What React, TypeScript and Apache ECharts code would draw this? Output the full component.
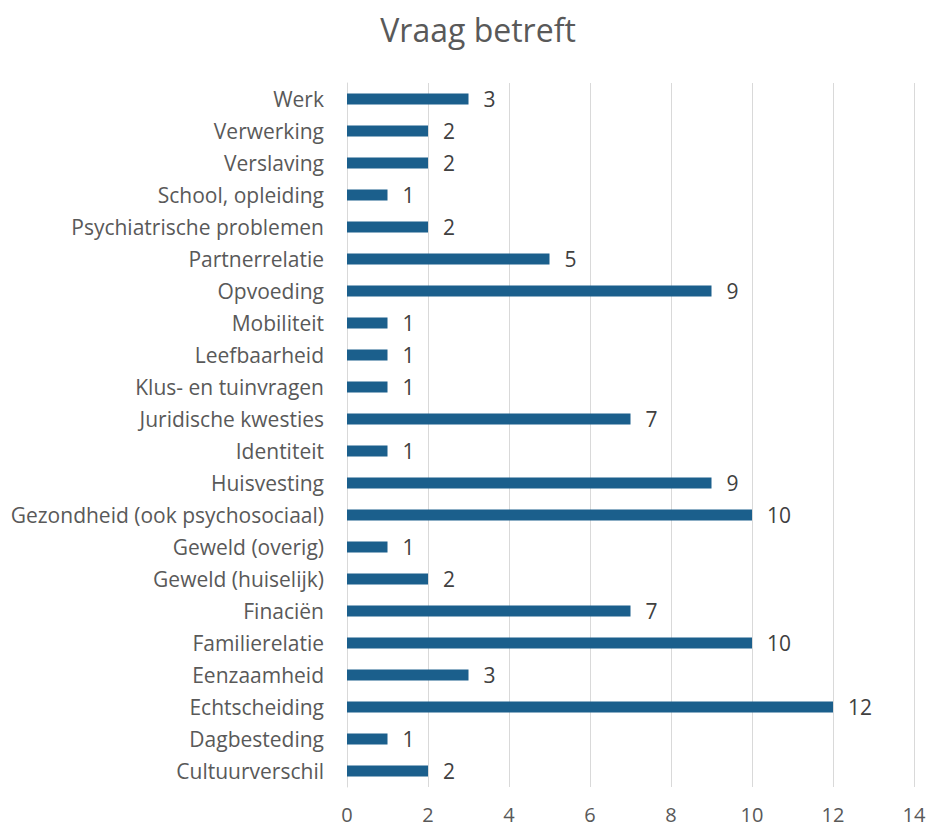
import React, { useEffect, useRef } from "react";
import * as echarts from "echarts";

const categories = [
  "Cultuurverschil",
  "Dagbesteding",
  "Echtscheiding",
  "Eenzaamheid",
  "Familierelatie",
  "Finaciën",
  "Geweld (huiselijk)",
  "Geweld (overig)",
  "Gezondheid (ook psychosociaal)",
  "Huisvesting",
  "Identiteit",
  "Juridische kwesties",
  "Klus- en tuinvragen",
  "Leefbaarheid",
  "Mobiliteit",
  "Opvoeding",
  "Partnerrelatie",
  "Psychiatrische problemen",
  "School, opleiding",
  "Verslaving",
  "Verwerking",
  "Werk",
];
const values = [2, 1, 12, 3, 10, 7, 2, 1, 10, 9, 1, 7, 1, 1, 1, 9, 5, 2, 1, 2, 2, 3];

const FONT = "'Open Sans', 'Liberation Sans', sans-serif";

export default function App() {
  const ref = useRef<HTMLDivElement>(null);
  useEffect(() => {
    if (!ref.current) return;
    const chart = echarts.init(ref.current, undefined, { renderer: "svg" });
    chart.setOption({
      animation: false,
      backgroundColor: "#ffffff",
      title: {
        text: "Vraag betreft",
        left: 473,
        top: 8,
        textAlign: "center",
        textStyle: { fontFamily: FONT, fontSize: 32, fontWeight: "normal", color: "#595959" },
      },
      grid: { left: 347, right: 16, top: 83, bottom: 40, containLabel: false },
      xAxis: {
        type: "value",
        min: 0,
        max: 14,
        interval: 2,
        axisLine: { show: false },
        axisTick: { show: false },
        splitLine: { show: true, lineStyle: { color: "#d9d9d9", width: 1 } },
        axisLabel: { fontFamily: FONT, fontSize: 20, lineHeight: 20, color: "#595959", margin: 17 },
      },
      yAxis: {
        type: "category",
        data: categories,
        axisLine: { show: true, lineStyle: { color: "#d9d9d9", width: 1 } },
        axisTick: { show: false },
        axisLabel: { fontFamily: FONT, fontSize: 21, color: "#595959", margin: 23 },
      },
      series: [
        {
          type: "bar",
          data: values,
          barWidth: 11,
          itemStyle: { color: "#1b5f8c" },
          label: {
            show: true,
            position: "right",
            distance: 15,
            fontFamily: FONT,
            fontSize: 21,
            color: "#404040",
          },
        },
      ],
    });
    return () => chart.dispose();
  }, []);
  return <div ref={ref} style={{ width: 930, height: 827, position: "absolute", left: 0, top: 0 }} />;
}
